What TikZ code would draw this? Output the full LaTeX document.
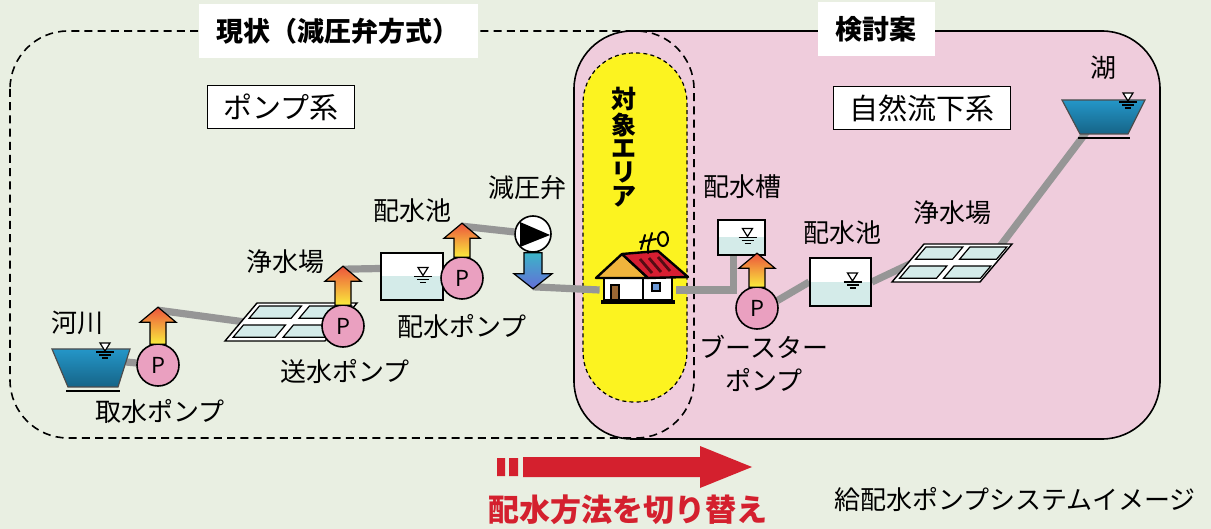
\documentclass[tikz,border=0pt]{standalone}
\usepackage{fontspec}
\setmainfont{Noto Sans CJK JP}
\usetikzlibrary{positioning,calc}

\definecolor{bgpale}{RGB}{233,239,226}
\definecolor{pinkarea}{RGB}{239,204,220}
\definecolor{areayellow}{RGB}{252,243,32}
\definecolor{pipegrey}{RGB}{150,150,150}
\definecolor{pumppink}{RGB}{234,160,192}
\definecolor{waterpale}{RGB}{212,235,233}
\definecolor{arrowtop}{RGB}{236,84,60}
\definecolor{arrowmid}{RGB}{244,170,60}
\definecolor{arrowbot}{RGB}{250,236,60}
\definecolor{valvetop}{RGB}{60,180,200}
\definecolor{valvebot}{RGB}{100,110,215}
\definecolor{lakelight}{RGB}{36,150,200}
\definecolor{lakedark}{RGB}{22,100,135}
\definecolor{switchred}{RGB}{212,32,46}
\definecolor{roofred}{RGB}{215,30,50}
\definecolor{gableorange}{RGB}{240,180,60}

\pgfdeclarelayer{back}
\pgfdeclarelayer{pipes}
\pgfsetlayers{back,pipes,main}

\tikzset{
  pipe/.style={draw=pipegrey, line width=3.6pt},
  pump/.style={circle, draw, line width=0.8pt, fill=pumppink, minimum size=21pt, inner sep=0pt, font=\fontsize{11}{11}\selectfont},
  tank/.style={rectangle, draw, line width=0.8pt, fill=white, inner sep=0pt,
    path picture={\fill[waterpale] (path picture bounding box.west) rectangle (path picture bounding box.south east);}},
  txt/.style={inner sep=0pt, font=\fontsize{13}{13}\selectfont},
  sysbox/.style={draw, line width=0.7pt, fill=white, inner xsep=8pt, inner ysep=4pt, font=\fontsize{14.5}{14.5}\selectfont},
  headbox/.style={fill=white, inner xsep=9pt, inner ysep=7pt, font=\bfseries\fontsize{13.5}{13.5}\selectfont},
  % plant drawn upward from its lower left corner (y up inside the pic)
  pics/plant/.style={code={
    \filldraw[fill=white, line width=0.7pt] (0,0) -- (#1,0) -- (#1+32,38) -- (32,38) -- cycle;
    \foreach \i in {0,1}{
      \foreach \j in {0,1}{
        \pgfmathsetmacro\ua{0.5*\i+0.05}
        \pgfmathsetmacro\ub{0.5*\i+0.47}
        \pgfmathsetmacro\va{0.5*\j+0.1}
        \pgfmathsetmacro\vb{0.5*\j+0.42}
        \filldraw[fill=waterpale, line width=0.6pt] ({\ua*#1+\va*32},{\va*38}) -- ({\ub*#1+\va*32},{\va*38}) -- ({\ub*#1+\vb*32},{\vb*38}) -- ({\ua*#1+\vb*32},{\vb*38}) -- cycle;
      }}
    \coordinate (-in) at (20,19);
    \coordinate (-out) at (#1+18,33);
  }},
}

% water level mark: #1 is a point on the water line
\newcommand{\waterlevel}[1]{%
  \filldraw[fill=white, line width=0.6pt] ($#1+(-5,-9)$) -- ($#1+(5,-9)$) -- ($#1+(0,-1)$) -- cycle;
  \draw[line width=0.6pt] ($#1+(-9,0)$) -- ($#1+(9,0)$) ($#1+(-6,3)$) -- ($#1+(6,3)$) ($#1+(-3,6)$) -- ($#1+(3,6)$);
}
% pump lift arrow: #1 pump node, #2 length
\newcommand{\liftarrow}[2]{%
  \shadedraw[line width=0.6pt, top color=arrowtop, middle color=arrowmid, bottom color=arrowbot]
    ($(#1.north)+(-8,1)$) -- ($(#1.north)+(-8,15-#2)$) -- ($(#1.north)+(-18,15-#2)$) -- ($(#1.north)+(0,-#2)$)
    -- ($(#1.north)+(18,15-#2)$) -- ($(#1.north)+(8,15-#2)$) -- ($(#1.north)+(8,1)$) -- cycle;
  \coordinate (#1-tip) at ($(#1.north)+(0,3-#2)$);
}

\begin{document}
\begin{tikzpicture}[x=0.5pt,y=0.5pt,yscale=-1,xscale=1]
    \useasboundingbox (0,0) rectangle (1211,529);

    \begin{pgfonlayer}{back}
    %Shape: Rectangle
    \fill[bgpale] (0,0) rectangle (1211,529);
    %Rounded Rect [pink area]
    \filldraw[fill=pinkarea, line width=0.8pt, rounded corners=29pt] (574,31) rectangle (1160,439);
    %Rounded Rect [dashed area]
    \draw[line width=0.8pt, dash pattern=on 4pt off 2.6pt, rounded corners=29pt] (10,31) rectangle (694,438);
    %Rounded Rect [yellow area]
    \filldraw[fill=areayellow, line width=0.6pt, dash pattern=on 2pt off 1.6pt, rounded corners=25pt] (583,53) rectangle (687,402);
    \end{pgfonlayer}

    % Text Node
    \node[headbox] (now) at (338,31) {現状（減圧弁方式）};
    % Text Node
    \node[headbox] (plan) at (876,29) {検討案};
    % Text Node
    \node[sysbox] (pumpsys) at (281,107) {ポンプ系};
    % Text Node
    \node[sysbox] (gravsys) at (922,108) {自然流下系};
    % Text Node
    \node[inner sep=0pt, align=center, font=\bfseries\fontsize{12.5}{11.8}\selectfont] (area) at (624,147) {対\\象\\エ\\リ\\ア};

    %Shape: Trapezoid [river]
    \shadedraw[top color=lakelight, bottom color=lakedark, draw=black!70, line width=0.6pt] (52,349) -- (130,349) -- (118,387) -- (68,387) -- cycle;
    \draw[line width=1.2pt] (66,391) -- (120,391);
    \coordinate (river-out) at (126,362);
    \waterlevel{(105,352)}
    %Shape: Trapezoid [lake]
    \shadedraw[top color=lakelight, bottom color=lakedark, draw=black!70, line width=0.6pt] (1062,100) -- (1145,100) -- (1128,134) -- (1080,134) -- cycle;
    \draw[line width=1.2pt] (1078,138) -- (1130,138);
    \coordinate (lake-in) at (1088,130);
    \waterlevel{(1128,102)}

    % plants
    \pic (plantL) at (225,341) {plant=100};
    \pic (plantR) at (892,282) {plant=88};

    % tanks
    \node[tank, minimum width=31pt, minimum height=23.5pt] (poolL) at (412,276.5) {};
    \waterlevel{(poolL.center)+(11,0)}
    \node[tank, minimum width=30.5pt, minimum height=24pt] (poolR) at (840.5,282) {};
    \waterlevel{(poolR.center)+(12,0)}
    \node[tank, minimum width=23.5pt, minimum height=17.5pt] (tankS) at (741.5,237.5) {};
    \waterlevel{(tankS.center)+(6,0)}

    % pumps
    \node[pump] (intake) at (158,365) {P};
    \liftarrow{intake}{36}
    \node[pump] (send) at (343,326) {P};
    \liftarrow{send}{38}
    \node[pump] (dist) at (462,278) {P};
    \liftarrow{dist}{33}
    \node[pump] (booster) at (757,308) {P};
    \liftarrow{booster}{33}

    %Shape: Circle [valve]
    \node[circle, draw, line width=0.8pt, fill=white, minimum size=18pt, inner sep=0pt] (valve) at (533,234) {};
    \fill (520,222) -- (550,235) -- (520,247) -- cycle;
    \shadedraw[line width=0.6pt, top color=valvetop, bottom color=valvebot]
      ($(valve.south)+(-9,0)$) -- ($(valve.south)+(-9,21)$) -- ($(valve.south)+(-19,21)$) -- ($(valve.south)+(0,36)$)
      -- ($(valve.south)+(19,21)$) -- ($(valve.south)+(9,21)$) -- ($(valve.south)+(9,0)$) -- cycle;
    \coordinate (valve-tip) at ($(valve.south)+(0,34)$);

    % house
    \node[inner sep=0pt, minimum width=38pt, minimum height=22pt] (house) at (638,290) {};
    \filldraw[fill=white, line width=1.2pt] (604,278) -- (604,300) -- (672,300) -- (672,278);
    \draw[line width=2.4pt] (601,302) -- (675,302);
    \draw[line width=1.2pt] (643,278) -- (643,300);
    \filldraw[fill=gableorange, line width=1.2pt, line join=round] (596,278) -- (622,254) -- (648,278) -- cycle;
    \filldraw[fill=roofred, line width=1.2pt, line join=round] (622,254) -- (658,251) -- (688,277) -- (648,278) -- cycle;
    \draw[line width=1.4pt, black!60!roofred] (640,259) -- (652,273) (649,258) -- (661,272) (658,257) -- (670,271);
    \filldraw[fill=brown!80!black, line width=0.8pt] (611,285) rectangle (619,300);
    \filldraw[fill=cyan!50!blue!60, line width=0.6pt] (652,283) rectangle (660,291);
    \draw[line width=1pt, line cap=round] (645,235) -- (641,249) (652,233) -- (648,247) (640,242) -- (656,239) (648,247) -- (648,253);
    \draw[line width=1pt] (663,239) ellipse [x radius=5, y radius=7];

    %Straight Lines [pipes]
    \begin{pgfonlayer}{pipes}
    \draw[pipe] (river-out) -- (intake);
    \draw[pipe] (intake-tip) -- (plantL-in);
    \draw[pipe] (send-tip) -- ($(poolL.west)+(0,-8)$);
    \draw[pipe] (dist-tip) -- (valve);
    \draw[pipe] (valve-tip) -- (house.west);
    \draw[pipe] (house.east) -| ($(tankS.south)+(-8,0)$);
    \draw[pipe] (booster.20) -- (poolR.west);
    \draw[pipe] (poolR.east) -- (plantR-in);
    \draw[pipe] (plantR-out) -- (lake-in);
    \end{pgfonlayer}

    % Text Node
    \node[txt] (lriver) at (77,323) {河川};
    \node[txt] (lintake) at (160,412) {取水ポンプ};
    \node[txt] (lplantL) at (285,262) {浄水場};
    \node[txt] (lsend) at (345,372) {送水ポンプ};
    \node[txt] (lpoolL) at (412,211) {配水池};
    \node[txt] (ldist) at (462,327) {配水ポンプ};
    \node[txt] (lvalve) at (527,188) {減圧弁};
    \node[txt] (ltankS) at (742,187) {配水槽};
    \node[txt] (lpoolR) at (842,233) {配水池};
    \node[txt] (lplantR) at (952,213) {浄水場};
    \node[txt, align=center, font=\fontsize{13}{16.5}\selectfont] (lbooster) at (764,363) {ブースター\\ポンプ};
    \node[txt] (llake) at (1103,68) {湖};

    %Shape: Arrow [switch]
    \fill[switchred] (497,458) rectangle (505,476) (509,458) rectangle (518,476);
    \fill[switchred] (523,457) -- (700,457) -- (700,446) -- (752,467) -- (700,488) -- (700,477) -- (523,477) -- cycle;
    % Text Node
    \node[inner sep=0pt, text=switchred, font=\bfseries\fontsize{15.5}{15.5}\selectfont] (lswitch) at (628,510) {配水方法を切り替え};
    % Text Node
    \node[txt] (caption) at (1015,500) {給配水ポンプシステムイメージ};
\end{tikzpicture}
\end{document}
